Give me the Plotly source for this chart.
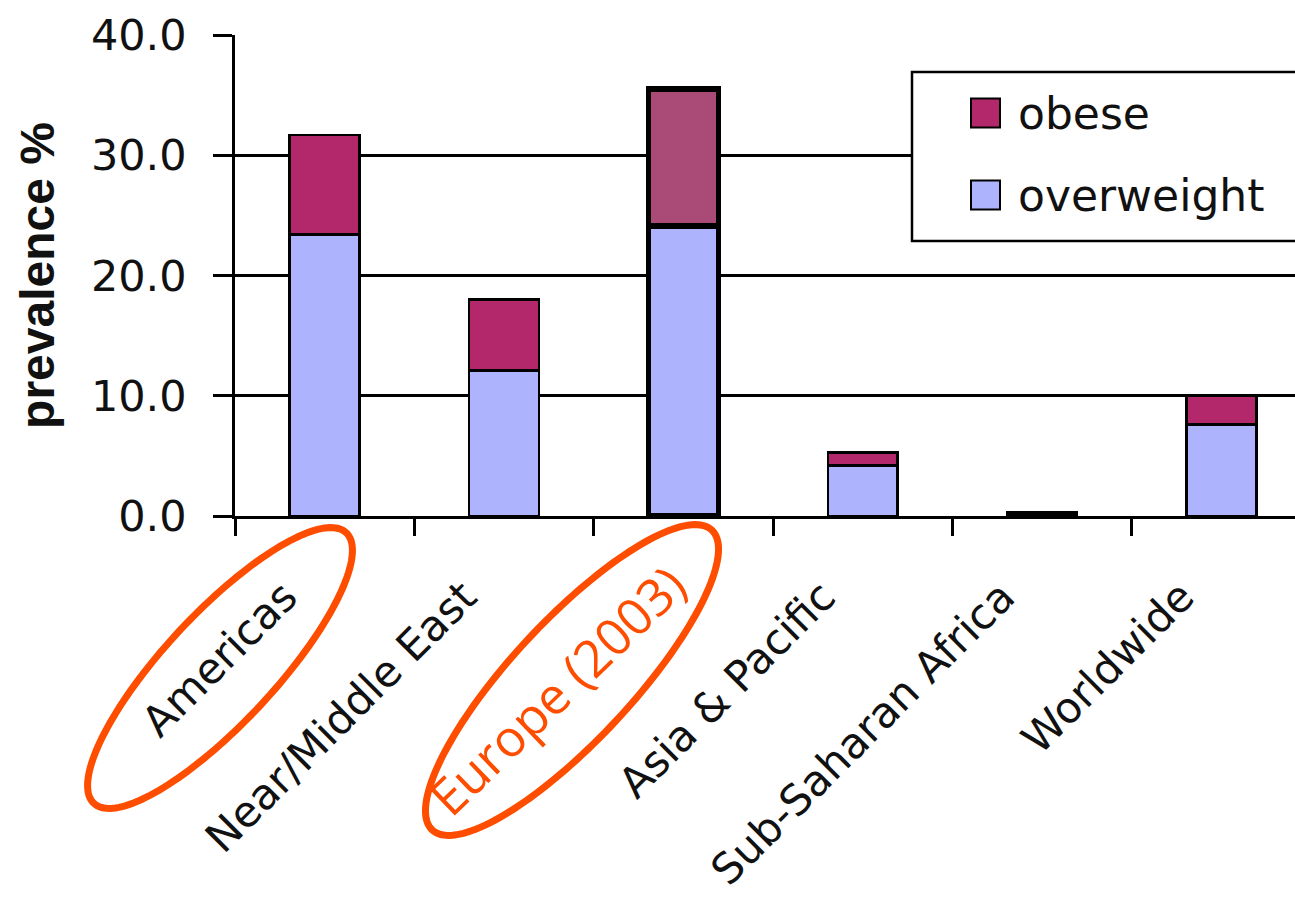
import numpy as np
import plotly.graph_objects as go

# ---- data -------------------------------------------------------------
regions = ["Americas", "Near/Middle East", "Europe (2003)",
           "Asia & Pacific", "Sub-Saharan Africa", "Worldwide"]
overweight = [23.4, 12.1, 24.1, 4.2, 0.2, 7.6]
obese = [8.3, 5.9, 11.4, 1.1, 0.1, 2.4]
y_ticks = [0, 10, 20, 30, 40]
series_names = ["obese", "overweight"]
highlight = "Europe (2003)"
circled = ["Americas", "Europe (2003)"]

# ---- style ------------------------------------------------------------
COL_OVER = "#aeb3fd"
COL_OBESE = "#b3286b"
COL_OBESE_HL = "#a94a77"
ORANGE = "#ff4d00"
INK = "#111111"
FONT = "DejaVu Sans"

W, H = 1295, 901
L, R, T, B = 235, 0, 35, 385
PW, PH = W - L - R, H - T - B


def pxx(x):
    return (x - L) / PW


def pxy(y):
    return (H - B - y) / PH


line_w = [5.5 if r == highlight else 2.5 for r in regions]
obese_cols = [COL_OBESE_HL if r == highlight else COL_OBESE for r in regions]

fig = go.Figure()
fig.add_trace(go.Bar(
    x=regions, y=overweight, name=series_names[1], width=0.39,
    marker=dict(color=COL_OVER, line=dict(color="black", width=line_w)),
    showlegend=False,
))
fig.add_trace(go.Bar(
    x=regions, y=obese, name=series_names[0], width=0.39,
    marker=dict(color=obese_cols, line=dict(color="black", width=line_w)),
    showlegend=False,
))


# ---- hand-drawn highlight ellipses ------------------------------------
def ellipse_path(cx, cy, a, b, deg, n=160):
    t = np.linspace(0, 2 * np.pi, n, endpoint=False)
    th = np.radians(deg)
    xs = cx + a * np.cos(t) * np.cos(th) + b * np.sin(t) * np.sin(th)
    ys = cy - a * np.cos(t) * np.sin(th) + b * np.sin(t) * np.cos(th)
    pts = [f"{pxx(x):.5f},{pxy(y):.5f}" for x, y in zip(xs, ys)]
    return "M" + " L".join(pts) + " Z"


ellipses = {
    "Americas": (220, 668, 185, 55, 47),
    "Europe (2003)": (572, 680, 205, 60, 47),
}
shapes = []
for name in circled:
    cx, cy, a, b, d = ellipses[name]
    shapes.append(dict(type="path", path=ellipse_path(cx, cy, a, b, d),
                       xref="paper", yref="paper",
                       line=dict(color=ORANGE, width=7), layer="above"))

# ---- legend box ---------------------------------------------------------
shapes.append(dict(type="rect", xref="paper", yref="paper",
                   x0=pxx(912), x1=pxx(1330), y0=pxy(241), y1=pxy(72),
                   line=dict(color="black", width=2.5), fillcolor="white",
                   layer="above"))
legend_rows = [(series_names[0], COL_OBESE, 113), (series_names[1], COL_OVER, 195)]
annotations = []
for label, col, yc in legend_rows:
    shapes.append(dict(type="rect", xref="paper", yref="paper",
                       x0=pxx(971), x1=pxx(1000), y0=pxy(yc + 14.5), y1=pxy(yc - 14.5),
                       line=dict(color="black", width=2), fillcolor=col,
                       layer="above"))
    annotations.append(dict(text=label, xref="paper", yref="paper",
                            x=pxx(1016), y=pxy(yc), xanchor="left", yanchor="middle",
                            showarrow=False, font=dict(family=FONT, size=44, color=INK)))

# highlighted category label
annotations.append(dict(text=highlight, xref="paper", yref="paper",
                        x=pxx(556), y=pxy(690), xanchor="center", yanchor="middle",
                        textangle=-44, showarrow=False,
                        font=dict(family="Open Sans", size=51, color=ORANGE)))

tick_text = ["" if r == highlight else r for r in regions]

fig.update_layout(
    width=W, height=H,
    margin=dict(l=L, r=R, t=T, b=B, pad=0),
    paper_bgcolor="white", plot_bgcolor="white",
    barmode="stack",
    showlegend=False,
    shapes=shapes,
    annotations=annotations,
    xaxis=dict(
        type="category", range=[-0.5, 5.41], automargin=False,
        tickmode="array", tickvals=regions, ticktext=tick_text,
        tickangle=-45, tickson="boundaries", ticks="outside", ticklen=17,
        tickwidth=2.5, tickcolor="black",
        showline=True, linecolor="black", linewidth=2.5,
        showgrid=False, zeroline=False,
        tickfont=dict(family=FONT, size=42.5, color=INK),
        ticklabelstandoff=36, ticklabelshift=-40,
    ),
    yaxis=dict(
        range=[0, 40], automargin=False,
        tickmode="array", tickvals=y_ticks, tickformat=".1f",
        ticks="outside", ticklen=19, tickwidth=2.5, tickcolor="black",
        showline=True, linecolor="black", linewidth=2.5,
        showgrid=True, gridcolor="black", gridwidth=2.5, zeroline=False,
        tickfont=dict(family=FONT, size=43, color=INK),
        ticklabelstandoff=18,
        title=dict(text="<b>prevalence %</b>", standoff=22,
                   font=dict(family="Liberation Sans", size=48, color=INK)),
    ),
)

fig.write_html("out.html")
